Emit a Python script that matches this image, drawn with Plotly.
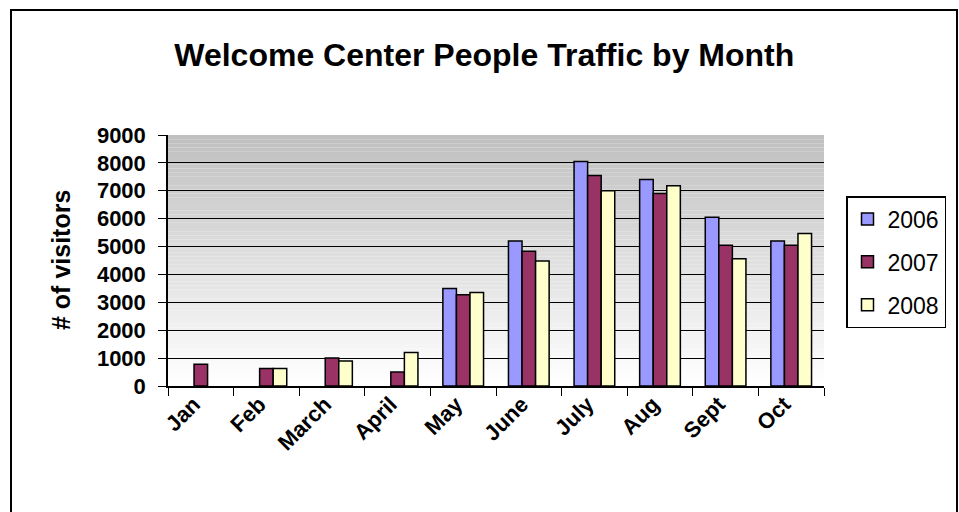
import plotly.graph_objects as go

months = ["Jan", "Feb", "March", "April", "May", "June", "July", "Aug", "Sept", "Oct"]
v2006 = [None, None, None, None, 3500, 5200, 8050, 7400, 6050, 5200]
v2007 = [780, 630, 1000, 500, 3270, 4830, 7550, 6900, 5050, 5050]
v2008 = [None, 630, 900, 1200, 3350, 4480, 7000, 7180, 4560, 5470]
series_names = ["2006", "2007", "2008"]
series_colors = ["#9999FF", "#993366", "#FFFFCC"]
y_ticks = [0, 1000, 2000, 3000, 4000, 5000, 6000, 7000, 8000, 9000]

FONT = "Liberation Sans, Arial, sans-serif"

fig = go.Figure()
for name, vals, col in zip(series_names, [v2006, v2007, v2008], series_colors):
    fig.add_trace(go.Bar(
        x=months, y=vals, name=name, legendgroup=name,
        marker=dict(color=col, line=dict(color="black", width=1.5)),
    ))

# gradient plot background (grey at top to white at bottom)
n = 60
shapes = []
for i in range(n):
    t = i / (n - 1)
    g = round(255 - (255 - 192) * t)
    shapes.append(dict(
        type="rect", xref="x domain", yref="y domain",
        x0=0, x1=1, y0=i / n, y1=(i + 1) / n,
        fillcolor=f"rgb({g},{g},{g})", line=dict(width=0), layer="below",
    ))

L, R, T, B = 168, 135, 135, 126
W, H = 959, 512
pw, ph = W - L - R, H - T - B
# outer frame
shapes.append(dict(
    type="rect", xref="paper", yref="paper",
    x0=(11 - L) / pw, x1=(957 - L) / pw,
    y0=(H - B - 530) / ph, y1=(H - B - 10) / ph,
    line=dict(color="black", width=2), fillcolor="rgba(0,0,0,0)",
))

fig.update_layout(
    width=W, height=H,
    margin=dict(l=L, r=R, t=T, b=B, autoexpand=False),
    paper_bgcolor="white", plot_bgcolor="rgba(0,0,0,0)",
    barmode="group", bargap=0.38, bargroupgap=0,
    shapes=shapes,
    title=dict(text="<b>Welcome Center People Traffic by Month</b>",
               x=0.505, xanchor="center", y=1 - 55 / H, yanchor="middle",
               font=dict(family=FONT, size=32, color="black")),
    legend=dict(x=(846 - L) / pw, y=(H - B - 196) / ph, xanchor="left", yanchor="top",
                bordercolor="black", borderwidth=1.5, bgcolor="white",
                font=dict(family=FONT, size=23, color="black"),
                tracegroupgap=10, itemwidth=30),
    font=dict(family=FONT, color="black"),
    annotations=[dict(text="<b># of visitors</b>", textangle=-90,
                      xref="paper", yref="paper",
                      x=(61 - L) / pw, y=(H - B - 260) / ph,
                      xanchor="center", yanchor="middle", showarrow=False,
                      font=dict(family=FONT, size=25, color="black"))],
)
fig.update_yaxes(
    range=[0, 9000], tickvals=y_ticks, ticktext=[f"<b>{v}</b>" for v in y_ticks],
    showgrid=True, gridcolor="black", gridwidth=1,
    showline=True, linecolor="black", linewidth=1.5,
    ticks="outside", ticklen=8, tickcolor="black", ticklabelstandoff=8,
    tickfont=dict(family=FONT, size=22, color="black"), zeroline=False,
)
fig.update_xaxes(
    tickvals=months, ticktext=[f"<b>{m}</b>" for m in months],
    tickangle=-45, tickson="boundaries",
    showline=True, linecolor="black", linewidth=1.5,
    ticks="outside", ticklen=8, tickcolor="black", showgrid=False,
    ticklabelstandoff=-5, ticklabelshift=-7,
    tickfont=dict(family=FONT, size=22, color="black"),
)

fig.write_html("out.html", config={"displayModeBar": False},
               post_script="document.body.style.margin='0';document.body.style.overflow='hidden';")
